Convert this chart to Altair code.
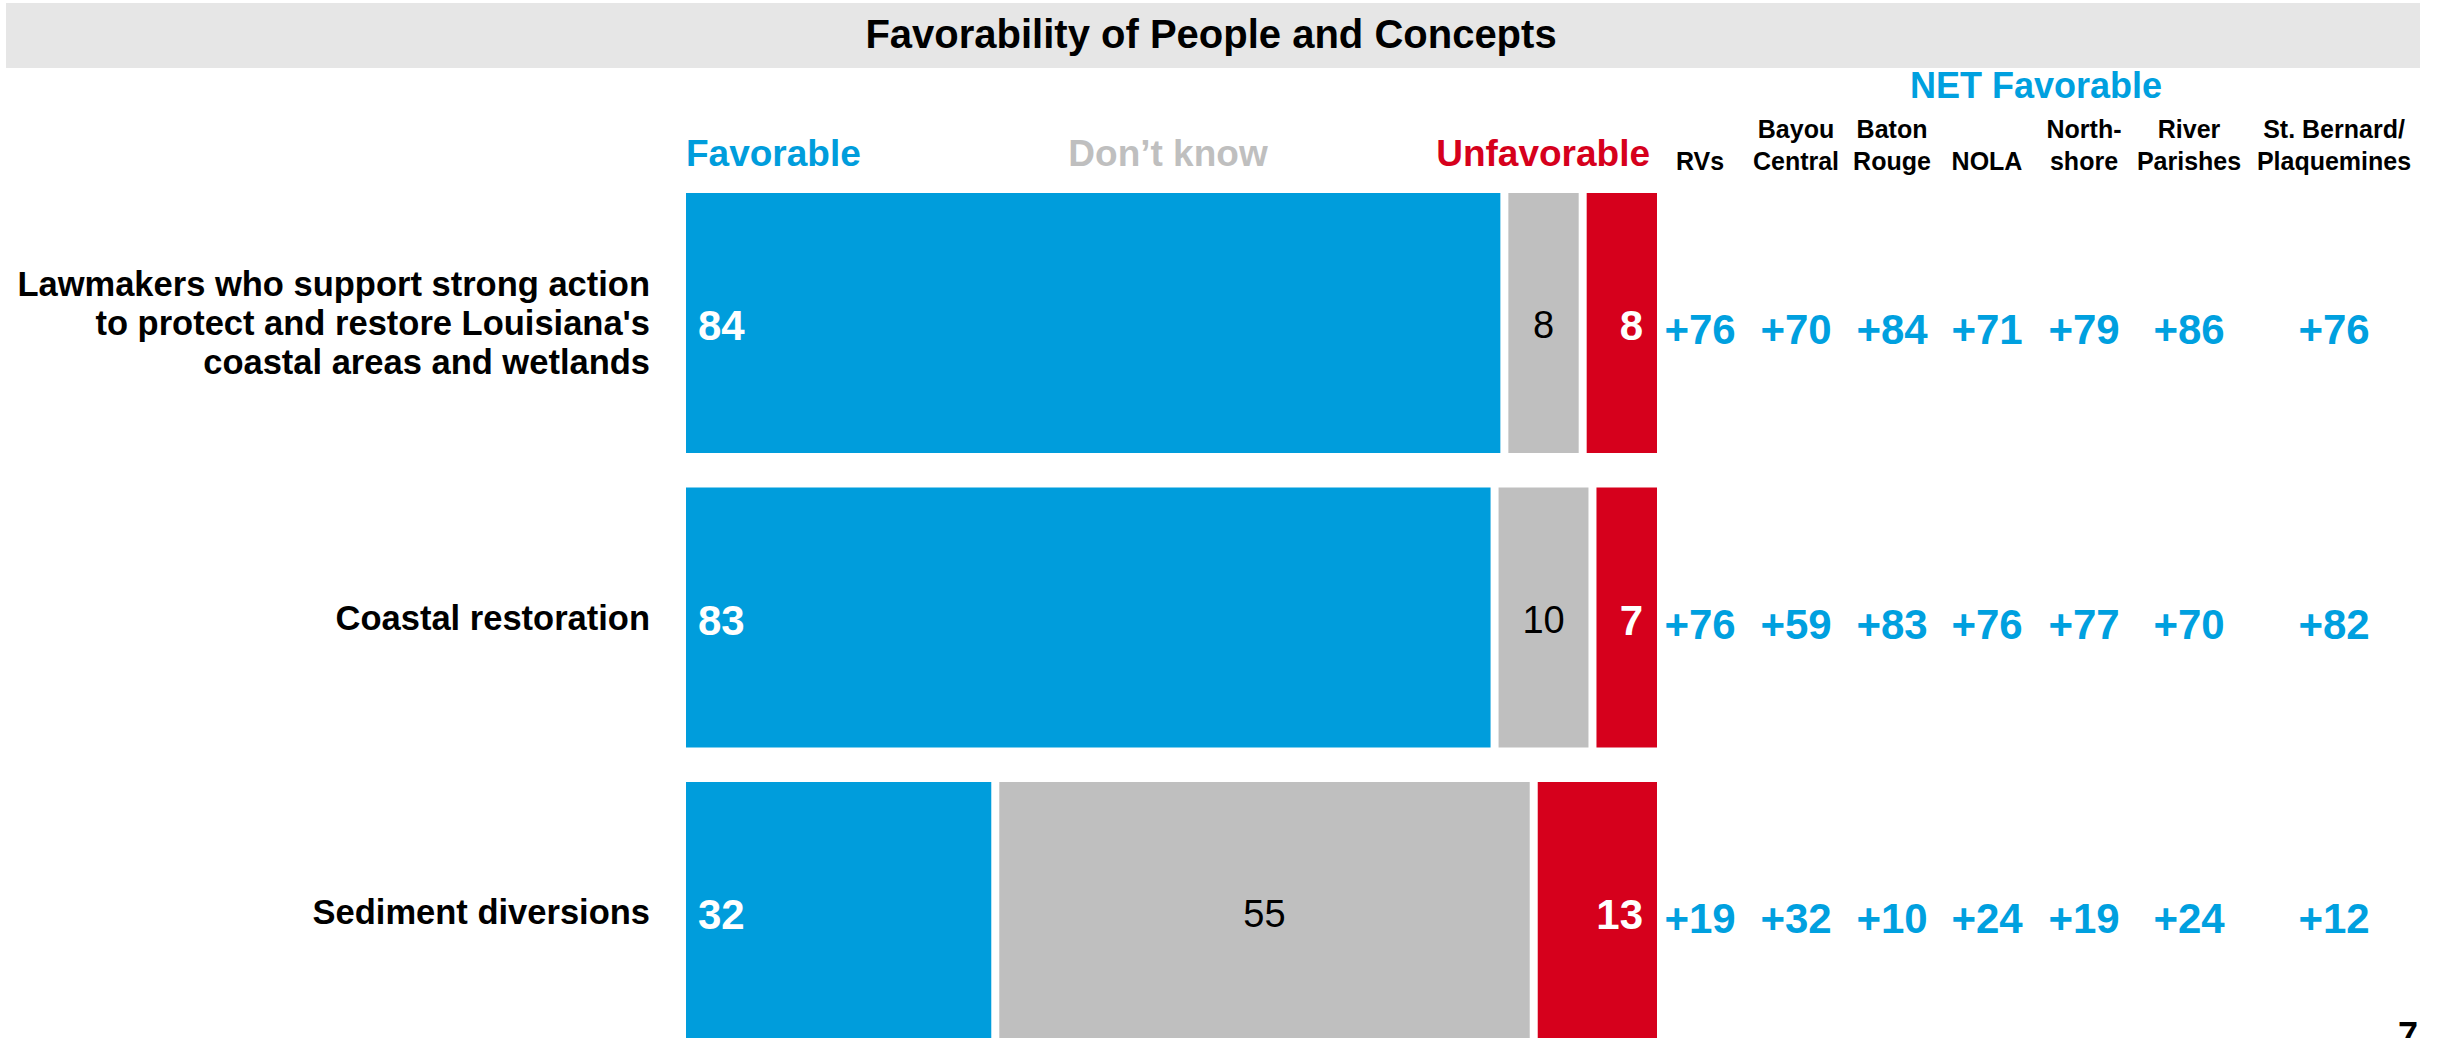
import altair as alt
import pandas as pd

# ---------------- data ----------------
title = "Favorability of People and Concepts"
items = [
    "Lawmakers who support strong action\nto protect and restore Louisiana's\ncoastal areas and wetlands",
    "Coastal restoration",
    "Sediment diversions",
]
categories = ["Favorable", "Don\u2019t know", "Unfavorable"]
favorable = [84, 83, 32]
dont_know = [8, 10, 55]
unfavorable = [8, 7, 13]

net_title = "NET Favorable"
region_line1 = ["", "Bayou", "Baton", "", "North-", "River", "St. Bernard/"]
region_line2 = ["RVs", "Central", "Rouge", "NOLA", "shore", "Parishes", "Plaquemines"]
net_lawmakers = [76, 70, 84, 71, 79, 86, 76]
net_coastal = [76, 59, 83, 76, 77, 70, 82]
net_sediment = [19, 32, 10, 24, 19, 24, 12]
page_number = "7"

# ---------------- styles ----------------
FONT = "Liberation Sans"
BLUE = "#009DDC"
RED = "#D6001C"
GRAY = "#BFBFBF"
NETBLUE = "#00A0DF"
TITLE_BG = "#E6E6E6"
LABEL_LH = 39

# ---------------- tables ----------------
rows = []
for i, item in enumerate(items):
    vals = [favorable[i], dont_know[i], unfavorable[i]]
    start = 0
    for k, (cat, v) in enumerate(zip(categories, vals)):
        rows.append(dict(item=item, cat=cat, order=k, value=v,
                         start=start, end=start + v, mid=start + v / 2))
        start += v
bars_df = pd.DataFrame(rows)

net_rows = [net_lawmakers, net_coastal, net_sediment]
net_df = pd.DataFrame([
    dict(item=items[i], col=j, net=f"{v:+d}")
    for i, r in enumerate(net_rows) for j, v in enumerate(r)
])
hdr_df = pd.DataFrame(dict(col=list(range(len(region_line2))), l1=region_line1, l2=region_line2))
lab_df = pd.DataFrame(dict(item=items, nlines=[s.count("\n") + 1 for s in items]))
one = pd.DataFrame(dict(t=[title]))

# ---------------- scales ----------------
xs = alt.Scale(domain=[0, 100], range=[686, 1665], nice=False, zero=False)
ys = alt.Scale(domain=items, range=[175.8, 1059.3], paddingInner=0.117, paddingOuter=0.0585)
cs = alt.Scale(domain=list(range(7)), range=[1700, 1796, 1892, 1987, 2084, 2189, 2334],
               nice=False, zero=False)

Y = alt.Y("item:N", scale=ys, axis=None)

# ---------------- bars + labels ----------------
bars = alt.Chart(bars_df).mark_bar(x2Offset=-8).encode(
    x=alt.X("start:Q", scale=xs, axis=None),
    x2="end:Q",
    y=Y,
    color=alt.Color("cat:N", scale=alt.Scale(domain=categories, range=[BLUE, GRAY, RED]), legend=None),
)
fav_text = alt.Chart(bars_df).transform_filter(alt.datum.order == 0).mark_text(
    align="left", baseline="middle", dx=12, dy=4, font=FONT, fontSize=42,
    fontWeight="bold", color="white",
).encode(x=alt.X("start:Q", scale=xs, axis=None), y=Y, text="value:Q")
dk_text = alt.Chart(bars_df).transform_filter(alt.datum.order == 1).mark_text(
    align="center", baseline="middle", dx=-4, dy=4, font=FONT, fontSize=38,
    color="black",
).encode(x=alt.X("mid:Q", scale=xs, axis=None), y=Y, text="value:Q")
unf_text = alt.Chart(bars_df).transform_filter(alt.datum.order == 2).mark_text(
    align="right", baseline="middle", dx=-22, dy=4, font=FONT, fontSize=42,
    fontWeight="bold", color="white",
).encode(x=alt.X("end:Q", scale=xs, axis=None), y=Y, text="value:Q")
bar_group = alt.layer(bars, fav_text, dk_text, unf_text)

# ---------------- net favorable columns ----------------
hdr1 = alt.Chart(hdr_df).mark_text(
    align="center", baseline="alphabetic", font=FONT, fontSize=25, fontWeight="bold", color="black"
).encode(x=alt.X("col:Q", scale=cs, axis=None), y=alt.value(138), text="l1:N")
hdr2 = alt.Chart(hdr_df).mark_text(
    align="center", baseline="alphabetic", font=FONT, fontSize=25, fontWeight="bold", color="black"
).encode(x=alt.X("col:Q", scale=cs, axis=None), y=alt.value(170), text="l2:N")
net_text = alt.Chart(net_df).mark_text(
    align="center", baseline="middle", dy=8, font=FONT, fontSize=42, fontWeight="bold", color=NETBLUE
).encode(x=alt.X("col:Q", scale=cs, axis=None), y=Y, text="net:N")
net_group = alt.layer(hdr1, hdr2, net_text)

# ---------------- row labels (multi-line blocks centred on their row) ----------------
label_layers = []
for n in sorted(set(lab_df["nlines"])):
    label_layers.append(
        alt.Chart(lab_df).transform_filter(alt.datum.nlines == int(n)).mark_text(
            align="right", baseline="middle", lineBreak="\n", lineHeight=LABEL_LH,
            dy=2 - (int(n) - 1) * LABEL_LH / 2,
            font=FONT, fontSize=34.5, fontWeight="bold", color="black",
        ).encode(x=alt.value(650), y=Y, text="item:N")
    )
row_labels = alt.layer(*label_layers)

# ---------------- title bar ----------------
title_rect = alt.Chart(one).mark_rect(color=TITLE_BG).encode(
    x=alt.value(6), x2=alt.value(2420), y=alt.value(3), y2=alt.value(68)
)
title_text = alt.Chart(one).mark_text(
    align="center", baseline="alphabetic", font=FONT, fontSize=40, fontWeight="bold", color="black"
).encode(x=alt.value(1211), y=alt.value(48), text="t:N")

# ---------------- column headers ----------------
def header(txt, x, y, align, color, size):
    return alt.Chart(pd.DataFrame(dict(t=[txt]))).mark_text(
        align=align, baseline="alphabetic", font=FONT, fontSize=size, fontWeight="bold", color=color
    ).encode(x=alt.value(x), y=alt.value(y), text="t:N")

h_fav = header(categories[0], 686, 166, "left", BLUE, 37)
h_dk = header(categories[1], 1168, 166, "center", GRAY, 37)
h_unf = header(categories[2], 1650, 166, "right", RED, 37)
h_net = header(net_title, 2036, 98, "center", NETBLUE, 36)

page = alt.Chart(pd.DataFrame(dict(t=[page_number]))).mark_text(
    align="center", baseline="alphabetic", font=FONT, fontSize=36, fontWeight="bold", color="black"
).encode(x=alt.value(2408), y=alt.value(1048), text="t:N")

chart = alt.layer(
    title_rect, title_text, bar_group, net_group, row_labels,
    h_fav, h_dk, h_unf, h_net, page,
).resolve_scale(x="independent").properties(
    width=2438, height=1038,
    autosize=alt.AutoSizeParams(type="none"),
    padding=0,
).configure_view(stroke=None)

chart.save("out.html", embed_options={"renderer": "svg", "actions": False})
